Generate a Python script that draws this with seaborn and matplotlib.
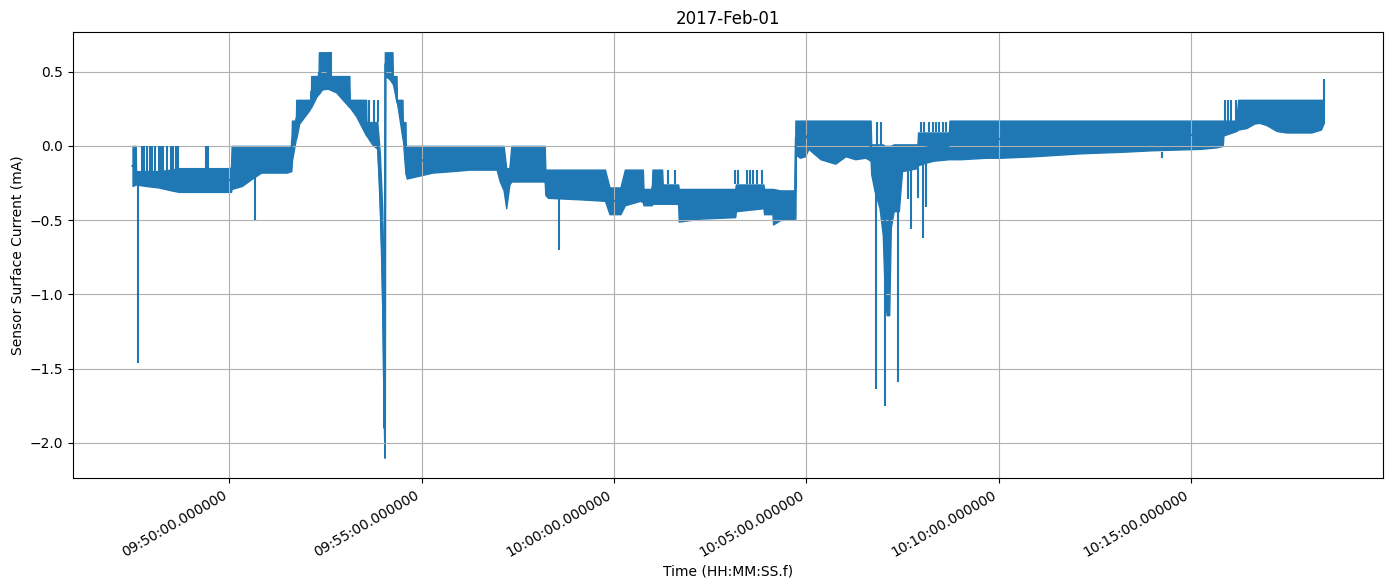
import numpy as np
import pandas as pd
import matplotlib
matplotlib.use("Agg")
import matplotlib.pyplot as plt
import matplotlib.dates as mdates
import seaborn as sns

# -------------------------------
# Data (seconds after 09:47:00, band low / band high in mA)
# -------------------------------
t_sec = [29.5, 34.5, 35.0, 50, 70, 90, 102, 140, 183, 184, 200, 216, 230, 270, 277,
         278, 284.2, 284.7, 289.4, 305, 307.6, 308, 316, 319.5, 320, 325, 333.6, 334,
         347, 367.5, 368, 378, 393.6, 394, 403, 411, 415, 418.5, 421, 422.2, 422.8,
         423.5, 430, 434.7, 435.2, 441, 441.5, 450.3, 450.8, 455, 455.5, 457, 477, 497,
         528, 555, 597, 602, 608, 612, 617, 620, 672, 673, 677, 727, 766, 773, 790,
         797, 821, 825, 826, 839, 840, 855, 856, 880, 881, 914, 969, 970, 1013, 1014,
         1027, 1028, 1039, 1062, 1062.8, 1063.5, 1070, 1078, 1083, 1091, 1102, 1117,
         1125, 1141, 1156, 1172, 1180, 1181, 1186, 1194, 1199, 1202, 1205, 1209,
         1211.5, 1216, 1224, 1229, 1253, 1254, 1269, 1278, 1302, 1303, 1320, 1360,
         1383, 1435, 1508, 1571, 1617, 1695, 1719, 1729, 1730, 1750, 1753, 1766, 1778,
         1786, 1797, 1805, 1813, 1828, 1867, 1882, 1886.0]
band_lo = [-0.27, -0.26, -0.26, -0.27, -0.28, -0.30, -0.31, -0.31, -0.31, -0.29, -0.27,
           -0.22, -0.18, -0.18, -0.17, -0.10, 0.05, 0.05, 0.15, 0.24, 0.26, 0.26, 0.33,
           0.35, 0.35, 0.38, 0.385, 0.385, 0.36, 0.26, 0.26, 0.20, 0.07, 0.07, 0.01,
           -0.02, -0.42, -1.0, -1.8, -2.1, -2.0, 0.47, 0.45, 0.42, 0.42, 0.30, 0.30,
           0.05, 0.05, -0.19, -0.19, -0.22, -0.20, -0.18, -0.17, -0.16, -0.16, -0.24,
           -0.30, -0.42, -0.26, -0.24, -0.24, -0.33, -0.35, -0.36, -0.37, -0.46, -0.46,
           -0.40, -0.37, -0.38, -0.40, -0.40, -0.39, -0.39, -0.39, -0.39, -0.51, -0.49,
           -0.48, -0.44, -0.42, -0.46, -0.46, -0.53, -0.50, -0.49, -0.49, -0.06, -0.08,
           -0.07, -0.02, -0.05, -0.09, -0.11, -0.12, -0.07, -0.09, -0.08, -0.10, -0.19,
           -0.30, -0.42, -0.60, -1.00, -1.14, -1.14, -0.55, -0.44, -0.44, -0.17, -0.15,
           -0.13, -0.11, -0.10, -0.09, -0.09, -0.09, -0.08, -0.08, -0.07, -0.05, -0.04,
           -0.03, -0.02, -0.01, 0.0, 0.07, 0.10, 0.11, 0.12, 0.15, 0.155, 0.14, 0.12,
           0.10, 0.09, 0.09, 0.11, 0.15]
band_hi = [0.0, 0.0, -0.17, -0.17, -0.17, -0.16, -0.15, -0.15, -0.15, 0.0, 0.0,
           0.0, 0.0, 0.0, 0.0, 0.17, 0.17, 0.31, 0.31, 0.31, 0.31, 0.47, 0.47,
           0.47, 0.63, 0.63, 0.63, 0.47, 0.47, 0.47, 0.31, 0.31, 0.31, 0.16, 0.16,
           0.16, -0.05, -0.4, -0.9, -1.7, 0.63, 0.63, 0.63, 0.63, 0.47, 0.47, 0.31,
           0.31, 0.16, 0.16, 0.0, 0.0, 0.0, 0.0, 0.0, 0.0, 0.0, 0.0,
           0.0, -0.15, -0.15, 0.0, 0.0, -0.16, -0.16, -0.16, -0.16, -0.28, -0.28,
           -0.16, -0.16, -0.16, -0.29, -0.29, -0.16, -0.16, -0.26, -0.26, -0.29, -0.29,
           -0.29, -0.26, -0.26, -0.29, -0.29, -0.29, -0.30, -0.30, 0.17, 0.17, 0.17,
           0.17, 0.17, 0.17, 0.17, 0.17, 0.17, 0.17, 0.17, 0.17, 0.17, 0.01,
           0.01, 0.01, 0.01, 0.0, 0.0, 0.0, 0.0, 0.01, 0.01, 0.01, 0.01,
           0.09, 0.09, 0.09, 0.09, 0.17, 0.17, 0.17, 0.17, 0.17, 0.17, 0.17,
           0.17, 0.17, 0.17, 0.17, 0.17, 0.17, 0.31, 0.31, 0.31, 0.31, 0.31, 0.31,
           0.31, 0.31, 0.31, 0.31, 0.31]

# upward needles (time, from, to)
spike_t = [44.1, 47.2, 51.9, 56.6, 59.7, 64.4, 70.6, 73.75, 76.9, 83.1, 89.4, 92.5,
           97.2, 100.3, 144.1, 147.2, 336.25, 339.4, 394, 398.75, 406.6, 412.8,
           864.4, 875.3, 969, 973.75, 987.8, 992.5, 997.2, 1003.4, 1011.25,
           1190.4, 1195.6, 1258.1, 1262.8, 1270.6, 1276.9, 1281.6, 1286.3, 1292.5,
           1297.2, 1733, 1737.3, 1742.5, 1750.3, 1886.0]
spike_from = [-0.17] * 14 + [-0.15] * 2 + [0.47] * 2 + [0.16] * 4 + [-0.26] * 9 \
    + [0.0] * 2 + [0.09] * 8 + [0.17] * 4 + [0.15]
spike_to = [0.0] * 16 + [0.63] * 2 + [0.31] * 4 + [-0.16] * 9 + [0.16] * 10 \
    + [0.31] * 4 + [0.45]

# downward needles (time, from, to)
dip_t = [37.8, 220.6, 694.1, 1188.6, 1201.9, 1222.3, 1237.8, 1242.5, 1253.4,
         1261.3, 1265.9, 1634.7]
dip_from = [-0.22, -0.20, -0.35, -0.30, -0.90, -0.40, -0.15, -0.15, -0.15,
            -0.12, -0.12, -0.04]
dip_to = [-1.46, -0.50, -0.70, -1.64, -1.75, -1.59, -0.36, -0.56, -0.35,
          -0.62, -0.41, -0.08]

base = pd.Timestamp("2017-02-01 09:47:00")
times = base + pd.to_timedelta(t_sec, unit="s")

df = pd.DataFrame({
    "Time": np.concatenate([times, times]),
    "Current": band_lo + band_hi,
})

color = "#1f77b4"

fig, ax = plt.subplots(figsize=(13.9, 5.79), dpi=100)

sns.lineplot(
    data=df, x="Time", y="Current",
    estimator="mean", errorbar=("pi", 100),
    color=color, linewidth=1.5,
    err_kws={"alpha": 1, "linewidth": 1.0, "edgecolor": color},
    ax=ax,
)

st = mdates.date2num(base + pd.to_timedelta(spike_t, unit="s"))
ax.vlines(st, spike_from, spike_to, color=color, linewidth=1.5)
dt = mdates.date2num(base + pd.to_timedelta(dip_t, unit="s"))
ax.vlines(dt, dip_from, dip_to, color=color, linewidth=1.5)

ax.xaxis.set_major_locator(mdates.MinuteLocator(byminute=range(0, 60, 5)))
ax.xaxis.set_major_formatter(mdates.DateFormatter("%H:%M:%S.%f"))
ax.grid(True)

ax.set_title("2017-Feb-01")
ax.set_xlabel("Time (HH:MM:SS.f)")
ax.set_ylabel("Sensor Surface Current (mA)")

fig.autofmt_xdate()
plt.subplots_adjust(left=0.0525, right=0.995, top=0.9447, bottom=0.1744)

plt.savefig("out.png", dpi=100)
plt.close()
